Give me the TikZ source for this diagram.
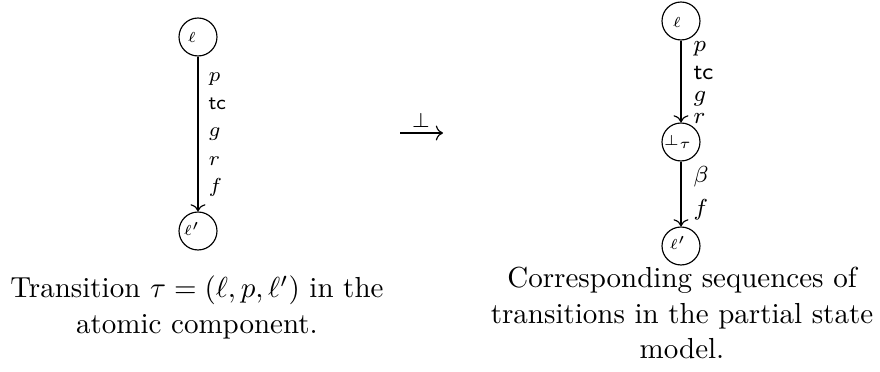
\documentclass[tikz,border=0pt]{standalone}
\usetikzlibrary{arrows.meta,calc}
\begin{document}
\begin{tikzpicture}[x=0.345pt,y=-0.345pt,
  state/.style={circle,draw,minimum size=13.1pt,inner sep=0pt},
  stxt/.style={anchor=base west,inner sep=0pt,font=\fontsize{5.5}{6}\selectfont},
  llab/.style={anchor=base west,inner sep=0pt,font=\scriptsize},
  rlab/.style={anchor=base west,inner sep=0pt,font=\footnotesize},
  tr/.style={-{Computer Modern Rightarrow},line width=0.4pt},
  capt/.style={text width=137pt,align=flush center,inner sep=0pt,anchor=base,
    font=\fontsize{10}{12.2}\selectfont}]
\useasboundingbox (0,0) rectangle (880,372);
% left diagram
\node[state] (a1) at (198,37) {};
\node[state] (a2) at (198,231) {};
\node[stxt] at ($(a1)+(-11,6)$) {$\ell$};
\node[stxt] at ($(a2)+(-15,5)$) {$\ell'$};
\draw[tr] (a1) -- (a2);
\node[llab] at (208,82) {$p$};
\node[llab] at (208,110) {\textsf{tc}};
\node[llab] at (208,137) {$g$};
\node[llab] at (208,166) {$r$};
\node[llab] at (208,193) {$f$};
% middle arrow
\coordinate (m1) at (400,133);
\coordinate (m2) at (443,133);
\draw[tr] (m1) -- (m2);
\node[inner sep=0pt] (bt) at (421,120) {$\scriptstyle\bot$};
% right diagram
\node[state] (b1) at (681,21) {};
\node[state] (b2) at (681,142) {};
\node[state] (b3) at (681,246) {};
\node[stxt] at ($(b1)+(-9,7)$) {$\ell$};
\node[stxt] at ($(b2)+(-18,4)$) {$\bot_\tau$};
\node[stxt] at ($(b3)+(-12,4)$) {$\ell'$};
\draw[tr] (b1) -- (b2);
\draw[tr] (b2) -- (b3);
\node[rlab] at (693,52) {$p$};
\node[rlab] at (693,80) {\textsf{tc}};
\node[rlab] at (693,102) {$g$};
\node[rlab] at (693,124) {$r$};
\node[rlab] at (693,183) {$\beta$};
\node[rlab] at (693,216) {$f$};
% captions
\node[capt] (c1) at (197,298) {Transition $\tau=(\ell,p,\ell')$ in the atomic component.};
\node[capt] (c2) at (682,288) {Corresponding sequences of transitions in the partial state model.};
\end{tikzpicture}
\end{document}
